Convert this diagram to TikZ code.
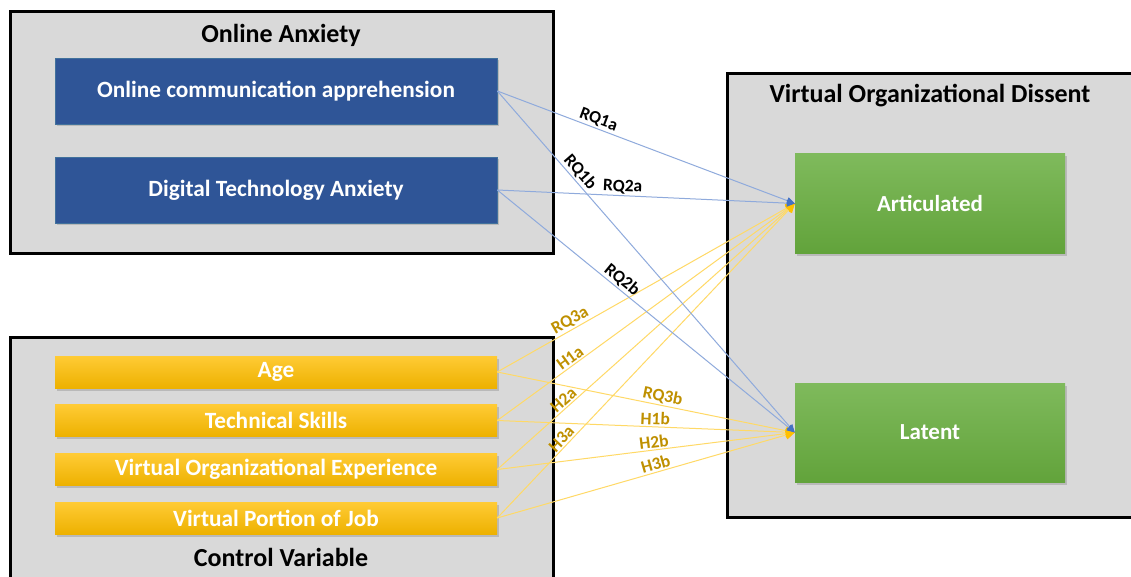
\documentclass[tikz,border=0pt]{standalone}
\usepackage{fontspec}
\setmainfont{Carlito}
\usetikzlibrary{arrows.meta,shadows}
\definecolor{panelgray}{HTML}{D9D9D9}
\definecolor{anxblue}{HTML}{2F5597}
\definecolor{anxedge}{HTML}{41719C}
\definecolor{greentop}{HTML}{7FBA5C}
\definecolor{greenbot}{HTML}{62A33B}
\definecolor{goldtop}{HTML}{FFCB35}
\definecolor{goldbot}{HTML}{EDB100}
\definecolor{blueline}{HTML}{8FAADC}
\definecolor{bluetip}{HTML}{4472C4}
\definecolor{goldline}{HTML}{FFD966}
\definecolor{goldtip}{HTML}{FFC000}
\definecolor{goldtext}{HTML}{BF9000}
\begin{document}
\begin{tikzpicture}[x=1pt,y=-1pt,
  panelbox/.style={draw=black,line width=3pt,fill=panelgray,inner sep=0pt},
  paneltitle/.style={font=\bfseries\fontsize{26}{30}\selectfont,text=black},
  boxshadow/.style={drop shadow={opacity=.35,shadow xshift=2pt,shadow yshift=-2.5pt}},
  anxbox/.style={boxshadow,fill=anxblue,draw=anxedge,line width=.6pt,minimum width=442pt,minimum height=66pt,
    text=white,font=\bfseries\fontsize{23.3}{27}\selectfont},
  ctrlbox/.style={boxshadow,top color=goldtop,bottom color=goldbot,draw=none,minimum width=442pt,minimum height=32pt,
    text=white,font=\bfseries\fontsize{23.3}{27}\selectfont,inner sep=0pt},
  dissbox/.style={boxshadow,top color=greentop,bottom color=greenbot,draw=none,minimum width=270pt,minimum height=99pt,
    text=white,font=\bfseries\fontsize{23}{27}\selectfont},
  bluearrow/.style={draw=blueline,line width=1pt,-{Triangle[length=8pt,width=7pt,color=bluetip,fill=bluetip]}},
  goldarrow/.style={draw=goldline,line width=1pt,-{Triangle[length=9pt,width=9pt,color=goldtip,fill=goldtip]}},
  lbl/.style={sloped,above,inner sep=1.5pt,font=\bfseries\fontsize{17.5}{20}\selectfont,text=black},
  goldlbl/.style={lbl,text=goldtext}]
\useasboundingbox (0,0) rectangle (1131,577);
\clip (0,0) rectangle (1131,577);
\fill[white] (0,0) rectangle (1131,577);

% group panels
\node[panelbox,minimum width=543pt,minimum height=241pt] (anxpanel) at (281.5,132.5) {};
\node[panelbox,minimum width=543pt,minimum height=263pt] (ctrlpanel) at (281.5,468.5) {};
\node[panelbox,minimum width=423pt,minimum height=443pt] (disspanel) at (938.5,295.5) {};

\node[paneltitle] (anxtitle) at (281,35) {Online Anxiety};
\node[paneltitle] (ctrltitle) at (281,557) {Control Variable};
\node[paneltitle] (disstitle) at (930,96) {Virtual Organizational Dissent};

% predictors
\node[anxbox] (oca) at (276,91) {Online communication apprehension};
\node[anxbox] (dta) at (276,190) {Digital Technology Anxiety};

% controls
\node[ctrlbox] (age) at (276,372) {Age};
\node[ctrlbox] (tech) at (276,420.5) {Technical Skills};
\node[ctrlbox] (voe) at (276,469.5) {Virtual Organizational Experience};
\node[ctrlbox] (vpj) at (276,518) {Virtual Portion of Job};

% outcomes
\node[dissbox] (art) at (930,203.5) {Articulated};
\node[dissbox] (lat) at (930,432.5) {Latent};

% control paths
\draw[goldarrow] (age.east) -- node[goldlbl,pos=.26] {RQ3a} (art.west);
\draw[goldarrow] (tech.east) -- node[goldlbl,pos=.26] {H1a} (art.west);
\draw[goldarrow] (voe.east) -- node[goldlbl,pos=.24] {H2a} (art.west);
\draw[goldarrow] (vpj.east) -- node[goldlbl,pos=.235] {H3a} (art.west);
\draw[goldarrow] (age.east) -- node[goldlbl,pos=.55] {RQ3b} (lat.west);
\draw[goldarrow] (tech.east) -- node[goldlbl,pos=.53] {H1b} (lat.west);
\draw[goldarrow] (voe.east) -- node[goldlbl,pos=.53] {H2b} (lat.west);
\draw[goldarrow] (vpj.east) -- node[goldlbl,pos=.54] {H3b} (lat.west);

% research question paths
\draw[bluearrow] (oca.east) -- node[lbl,pos=.33] {RQ1a} (art.west);
\draw[bluearrow] (oca.east) -- node[lbl,pos=.255] {RQ1b} (lat.west);
\draw[bluearrow] (dta.east) -- node[lbl,pos=.42] {RQ2a} (art.west);
\draw[bluearrow] (dta.east) -- node[lbl,pos=.40] {RQ2b} (lat.west);
\end{tikzpicture}
\end{document}
